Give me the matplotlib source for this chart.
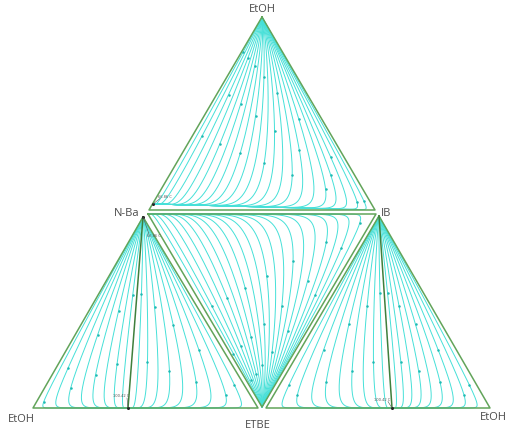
import numpy as np
import matplotlib
matplotlib.use("Agg")
import matplotlib.pyplot as plt

# ---------------------------------------------------------------------------
# Residue-curve families (constant relative volatility model).
# Each region has an unstable node U, a saddle S and a stable node N.
# frac = position along the S-N edge each curve heads for (0 = N, 1 = S)
# k    = (aS - aN) / (aU - aN), controls how strongly the curves bend
# ---------------------------------------------------------------------------
top_fracs = [0.03, 0.07, 0.12, 0.17, 0.22, 0.27, 0.32, 0.37, 0.42, 0.47,
             0.52, 0.57, 0.62, 0.67, 0.72, 0.77, 0.82, 0.86, 0.90, 0.94, 0.97]
top_k = 0.13

mid_fracs = [0.04, 0.08, 0.13, 0.18, 0.23, 0.28, 0.33, 0.38, 0.43, 0.48,
             0.53, 0.58, 0.63, 0.68, 0.73, 0.78, 0.83, 0.87, 0.91, 0.95]
mid_k = 0.16

left_a_fracs = [0.10, 0.22, 0.35, 0.48, 0.60, 0.72, 0.83, 0.93]
left_b_fracs = [0.08, 0.18, 0.29, 0.40, 0.51, 0.62, 0.72, 0.82, 0.91]
left_k = 0.14

right_a_fracs = [0.08, 0.18, 0.29, 0.40, 0.51, 0.62, 0.72, 0.82, 0.91]
right_b_fracs = [0.08, 0.18, 0.29, 0.40, 0.51, 0.62, 0.72, 0.82, 0.91]
right_k = 0.14

# azeotrope temperature tags
azeo_labels = ["66.86 C", "66.86 C", "100.42 C", "100.42 C"]

# ---------------------------------------------------------------------------
# Layout of the four unfolded ternary diagrams (canvas pixel coordinates)
# ---------------------------------------------------------------------------
W, H = 508, 434
top_tri = dict(EtOH=(262, 17), NBa=(149, 210), IB=(375, 210))
mid_tri = dict(NBa=(148, 214), IB=(376, 214), ETBE=(262, 407))
left_tri = dict(NBa=(143, 217), EtOH=(33, 408), ETBE=(258, 408))
right_tri = dict(IB=(379, 216), ETBE=(266, 408), EtOH=(490, 408))

az_top = (153, 204)
az_left = (128, 408)
az_right = (392, 408)

CURVE = "#46e0d8"
ARROW = "#1fb9b2"
EDGE = "#62a45a"
BOUND = "#3f7f3c"
TEXT = "#4a4a4a"

fig = plt.figure(figsize=(W / 100, H / 100), dpi=100)
ax = fig.add_axes([0, 0, 1, 1])
ax.set_xlim(0, W)
ax.set_ylim(H, 0)
ax.axis("off")


def residue_curve(PU, PS, PN, frac, k, n=4000):
    c = np.log(frac / (1 - frac))
    s = np.linspace(30, -110, n)
    wU = np.exp(s)
    wS = np.exp(c + k * s)
    tot = wU + wS + 1.0
    xs = (wU * PU[0] + wS * PS[0] + PN[0]) / tot
    ys = (wU * PU[1] + wS * PS[1] + PN[1]) / tot
    return xs, ys, s


def draw_family(PU, PS, PN, fracs, k, s_marks):
    for i, f in enumerate(fracs):
        xs, ys, s = residue_curve(PU, PS, PN, f, k)
        ax.plot(xs, ys, color=CURVE, lw=0.7, solid_capstyle="round", zorder=2)
        s_mark = s_marks[i % len(s_marks)]
        j = np.argmin(np.abs(s - s_mark))
        ax.plot(xs[j], ys[j], "o", ms=1.8, color=ARROW, mec="none", zorder=3)


draw_family(top_tri["EtOH"], top_tri["IB"], az_top, top_fracs, top_k, [1.5, -0.5, 0.5])
draw_family(mid_tri["ETBE"], mid_tri["IB"], mid_tri["NBa"], mid_fracs, mid_k, [1.0, 0.0, 2.0])
draw_family(left_tri["NBa"], left_tri["EtOH"], az_left, left_a_fracs, left_k, [0.5, -1.0])
draw_family(left_tri["NBa"], left_tri["ETBE"], az_left, left_b_fracs, left_k, [0.5, -1.0])
draw_family(right_tri["IB"], right_tri["ETBE"], az_right, right_a_fracs, right_k, [0.5, -1.0])
draw_family(right_tri["IB"], right_tri["EtOH"], az_right, right_b_fracs, right_k, [0.5, -1.0])

# triangle outlines (inner edges appear doubled)
for tri in (top_tri, mid_tri, left_tri, right_tri):
    pts = list(tri.values())
    pts.append(pts[0])
    px, py = zip(*pts)
    ax.plot(px, py, color=EDGE, lw=1.1, zorder=4)

# distillation boundaries
ax.plot([left_tri["NBa"][0], az_left[0]], [left_tri["NBa"][1], az_left[1]],
        color=BOUND, lw=1.1, zorder=4)
ax.plot([right_tri["IB"][0], az_right[0]], [right_tri["IB"][1], az_right[1]],
        color=BOUND, lw=1.1, zorder=4)

# azeotrope points and temperature tags
az_pts = [az_top, left_tri["NBa"], az_left, az_right]
tag_pos = [(158, 197), (147, 236), (113, 396), (374, 400)]
lead_end = [(160, 198.5), (149, 234), (127, 398), (388, 401.5)]
for (x0, y0), (tx, ty), (lx, ly), lab in zip(az_pts, tag_pos, lead_end, azeo_labels):
    ax.plot(x0, y0, "o", ms=2.2, color="#222222", mec="none", zorder=5)
    ax.plot([x0, lx], [y0, ly], color="#555555", lw=0.4, zorder=5)
    ax.text(tx, ty, lab, fontsize=2.6, color="#555555", ha="left",
            va="center", zorder=6)

# component labels
font = dict(family=["Open Sans", "DejaVu Sans"], fontsize=8, color=TEXT)
ax.text(262, 9, "EtOH", ha="center", va="center", **font)
ax.text(127, 214, "N-Ba", ha="center", va="center", **font)
ax.text(386, 213, "IB", ha="center", va="center", **font)
ax.text(21, 420, "EtOH", ha="center", va="center", **font)
ax.text(258, 426, "ETBE", ha="center", va="center", **font)
ax.text(507, 417, "EtOH", ha="right", va="center", **font)

fig.savefig("out.png", dpi=100)
